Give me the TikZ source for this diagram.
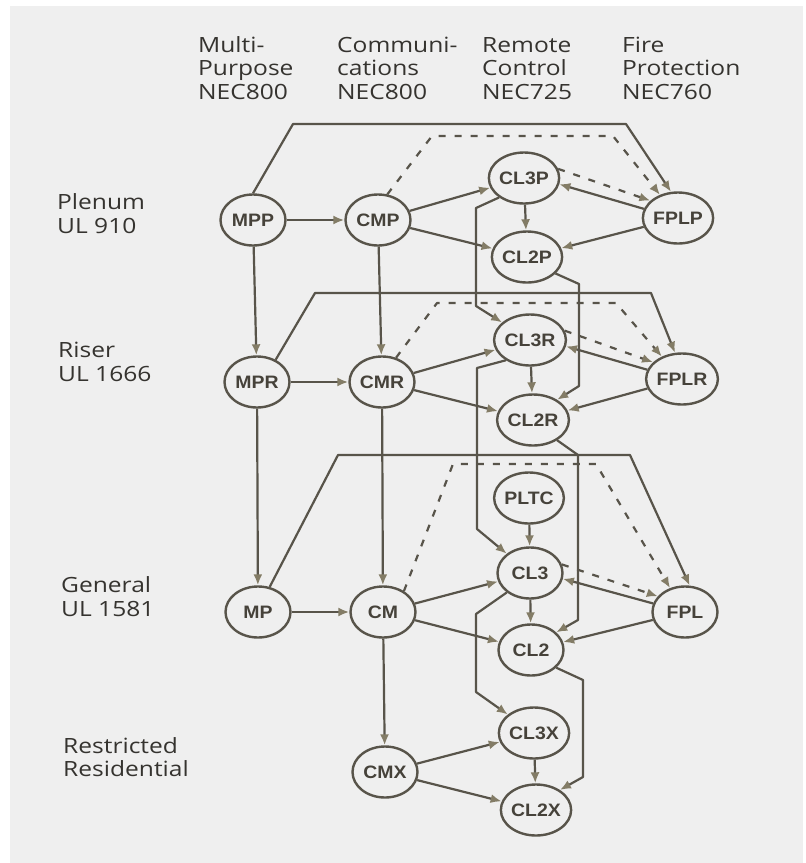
\documentclass[tikz,border=0pt]{standalone}
\usepackage{fontspec}
\usetikzlibrary{shapes.geometric,arrows.meta}
\newfontfamily\hdrfont{Open Sans}[FakeStretch=1.17]
\newfontfamily\ndfont{Liberation Sans}[FakeStretch=1.08]
\definecolor{bg}{HTML}{EFEFEF}
\definecolor{lc}{HTML}{58544A}
\definecolor{ac}{HTML}{837C66}
\definecolor{tc}{HTML}{46423A}
\definecolor{hc}{HTML}{35332F}
\begin{document}
\begin{tikzpicture}[x=1pt,y=-1pt,
  nd/.style={ellipse, draw=lc, fill=bg, line width=2.4pt, minimum width=65pt, minimum height=51pt, inner sep=0pt, text=tc, font={\ndfont\bfseries\fontsize{18pt}{18pt}\selectfont}},
  lbl/.style={anchor=base west, inner sep=0pt, text=hc, font={\hdrfont\fontsize{21pt}{24pt}\selectfont}},
  conn/.style={draw=lc, line width=2.2pt, line join=round, -{Latex[length=11pt,width=9pt,color=ac]}},
  dconn/.style={conn, dash pattern=on 7pt off 9pt},
  bus/.style={draw=lc, line width=2.2pt, line join=round, -{Latex[length=11pt,width=9pt,color=ac]}}
]
\useasboundingbox (0,0) rectangle (806,863);
\fill[white] (0,0) rectangle (806,863);
\fill[bg] (10,6) rectangle (803,863);

% headers
\node[lbl] (h1a) at (198,52) {Multi-};
\node[lbl] (h1b) at (198,75) {Purpose};
\node[lbl] (h1c) at (198,99) {NEC800};
\node[lbl] (h2a) at (337,52) {Communi-};
\node[lbl] (h2b) at (337,75) {cations};
\node[lbl] (h2c) at (337,99) {NEC800};
\node[lbl] (h3a) at (482,52) {Remote};
\node[lbl] (h3b) at (482,75) {Control};
\node[lbl] (h3c) at (482,99) {NEC725};
\node[lbl] (h4a) at (622,52) {Fire};
\node[lbl] (h4b) at (622,75) {Protection};
\node[lbl] (h4c) at (622,99) {NEC760};

% row labels
\node[lbl] (r1a) at (57,209) {Plenum};
\node[lbl] (r1b) at (57,233) {UL 910};
\node[lbl] (r2a) at (58,357) {Riser};
\node[lbl] (r2b) at (58,381) {UL 1666};
\node[lbl] (r3a) at (61,592) {General};
\node[lbl] (r3b) at (61,616) {UL 1581};
\node[lbl] (r4a) at (63,753) {Restricted};
\node[lbl] (r4b) at (63,776) {Residential};

% nodes
\node[nd] (MPP) at (253,220) {MPP};
\node[nd] (CMP) at (378,220) {CMP};
\node[nd] (CL3P) at (524,178) {CL3P};
\node[nd] (CL2P) at (527,257) {CL2P};
\node[nd] (FPLP) at (678,218) {FPLP};
\node[nd] (MPR) at (257,382) {MPR};
\node[nd] (CMR) at (382,382) {CMR};
\node[nd] (CL3R) at (530,340) {CL3R};
\node[nd] (CL2R) at (533,420) {CL2R};
\node[nd] (FPLR) at (682,379) {FPLR};
\node[nd] (PLTC) at (529,498) {PLTC};
\node[nd] (MP) at (258,612) {MP};
\node[nd] (CM) at (383,612) {CM};
\node[nd] (CL3) at (530,573) {CL3};
\node[nd] (CL2) at (531,650) {CL2};
\node[nd] (FPL) at (685,612) {FPL};
\node[nd] (CMX) at (385,772) {CMX};
\node[nd] (CL3X) at (534,733) {CL3X};
\node[nd] (CL2X) at (536,810) {CL2X};

% Plenum
\draw[conn] (MPP) -- (CMP);
\draw[conn] (CMP) -- (CL3P);
\draw[conn] (CMP) -- (CL2P);
\draw[conn] (CL3P) -- (CL2P);
\draw[conn] (FPLP) -- (CL2P);
\draw[conn] (FPLP.165) -- (CL3P.-10);
\draw[dconn] (CL3P.15) -- (FPLP.148);
\draw[conn] (MPP) -- (MPR);
\draw[conn] (CMP) -- (CMR);
\draw[bus] (MPP.north) -- (293,124) -- (626,124) -- (FPLP.105);
\draw[bus, dash pattern=on 7pt off 9pt] (CMP.70) -- (432,136) -- (613,136) -- (FPLP.128);
\draw[conn] (CL3P.218) -- (476,208) -- (476,306) -- (CL3R);
\draw[conn] (CL2P.-30) -- (579,284) -- (579,386) -- (CL2R.40);

% Riser
\draw[conn] (MPR) -- (CMR);
\draw[conn] (CMR) -- (CL3R);
\draw[conn] (CMR) -- (CL2R);
\draw[conn] (CL3R) -- (CL2R);
\draw[conn] (FPLR) -- (CL2R);
\draw[conn] (FPLR.165) -- (CL3R.-10);
\draw[dconn] (CL3R.15) -- (FPLR.150);
\draw[conn] (MPR) -- (MP);
\draw[conn] (CMR) -- (CM);
\draw[bus] (MPR.50) -- (315,293) -- (651,293) -- (FPLR.105);
\draw[bus, dash pattern=on 7pt off 9pt] (CMR.60) -- (437,303) -- (616,303) -- (FPLR.132);
\draw[conn] (CL3R.220) -- (477,368) -- (477,529) -- (CL3);
\draw[conn] (CL2R.-40) -- (578,455) -- (578,620) -- (CL2.35);

% General
\draw[conn] (MP) -- (CM);
\draw[conn] (CM) -- (CL3);
\draw[conn] (CM) -- (CL2);
\draw[conn] (CL3) -- (CL2);
\draw[conn] (PLTC) -- (CL3);
\draw[conn] (FPL) -- (CL2);
\draw[conn] (FPL.165) -- (CL3.-10);
\draw[dconn] (CL3.15) -- (FPL.150);
\draw[conn] (CM) -- (CMX);
\draw[bus] (MP.65) -- (338,455) -- (630,455) -- (FPL.80);
\draw[bus, dash pattern=on 7pt off 9pt] (CM.45) -- (453,464) -- (596,464) -- (FPL.122);
\draw[conn] (CL3.220) -- (476,614) -- (476,692) -- (CL3X);
\draw[conn] (CL2.-35) -- (583,680) -- (583,777) -- (CL2X.40);

% Restricted
\draw[conn] (CMX) -- (CL3X);
\draw[conn] (CMX) -- (CL2X);
\draw[conn] (CL3X) -- (CL2X);
\end{tikzpicture}
\end{document}
